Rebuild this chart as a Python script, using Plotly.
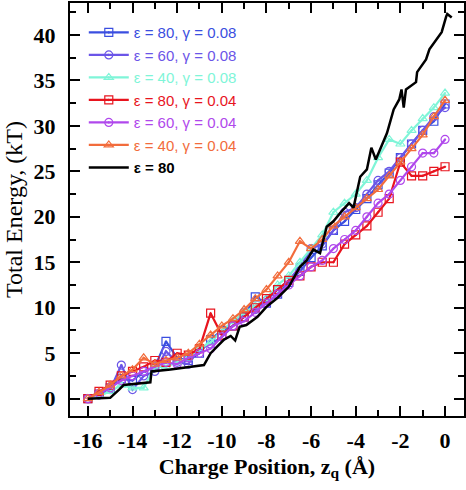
import plotly.graph_objects as go

# shared x grid for the colored series (Å)
x_grid = [-16.0, -15.5, -15.0, -14.5, -14.0, -13.5, -13.0, -12.5, -12.0, -11.5, -11.0,
          -10.5, -10.0, -9.5, -9.0, -8.5, -8.0, -7.5, -7.0, -6.5, -6.0, -5.5, -5.0,
          -4.5, -4.0, -3.5, -3.0, -2.5, -2.0, -1.5, -1.0, -0.5, 0.0]

e80_g008 = [0.0, 0.5, 1.2, 2.2, 2.0, 3.0, 3.5, 6.3, 4.5, 4.2, 5.0, 6.5, 7.5, 8.0, 9.0, 11.2,
            10.5, 11.5, 12.8, 14.0, 15.5, 16.8, 18.5, 19.5, 20.8, 22.0, 23.5, 24.8, 26.5,
            28.0, 29.5, 30.5, 32.4]
e60_g008 = [0.0, 0.4, 1.0, 3.7, 1.0, 2.5, 3.0, 5.2, 4.0, 3.8, 5.5, 6.0, 6.8, 8.0, 9.5, 9.8,
            10.8, 12.0, 13.0, 14.5, 16.5, 17.0, 18.5, 20.5, 21.0, 22.5, 24.0, 25.0, 26.5,
            28.0, 29.5, 31.0, 32.0]
e40_g008 = [0.0, 0.3, 0.8, 1.5, 1.2, 1.2, 3.5, 3.5, 4.0, 4.5, 5.5, 6.2, 7.5, 8.5, 9.5, 10.2,
            11.0, 12.5, 13.5, 15.0, 16.5, 18.0, 20.5, 21.5, 22.5, 24.0, 26.5, 28.5, 28.0,
            29.5, 30.8, 32.0, 33.6]
e80_g004 = [0.0, 0.8, 1.5, 2.5, 3.0, 3.5, 4.2, 4.0, 5.0, 4.8, 5.5, 9.4, 7.0, 8.0, 9.0, 10.0,
            11.0, 12.0, 13.0, 13.5, 14.5, 15.0, 15.0, 17.0, 18.0, 19.0, 20.5, 22.0, 26.0,
            24.5, 24.5, 25.0, 25.5]
e60_g004 = [0.0, 0.6, 1.2, 2.0, 2.5, 3.0, 3.5, 4.0, 3.8, 4.5, 5.0, 5.5, 6.8, 8.0, 8.5, 9.5,
            10.5, 11.5, 12.5, 13.5, 14.5, 15.2, 16.5, 17.5, 18.5, 20.0, 21.5, 22.5, 24.0,
            25.5, 27.0, 27.0, 28.5]
e40_g004 = [0.0, 0.7, 1.5, 2.5, 3.2, 4.5, 3.8, 4.2, 4.5, 5.0, 6.0, 7.0, 8.0, 8.8, 9.8, 11.0,
            12.0, 13.5, 15.0, 17.3, 16.5, 17.5, 19.0, 20.0, 21.0, 22.0, 23.0, 24.5, 26.0,
            27.5, 29.0, 31.0, 32.8]

# black curve (ε = 80, no γ)
x_black = [-16.0, -15.0, -14.6, -14.4, -13.2, -13.15, -12.3, -11.4, -10.8, -10.5,
           -9.9, -9.6, -9.4, -9.2, -8.9, -8.4, -8.0, -7.5, -7.3, -7.0,
           -6.5, -6.2, -5.9, -5.6, -5.3, -5.0, -4.7, -4.3, -4.1, -3.8,
           -3.5, -3.3, -3.1, -2.6, -2.3, -2.05, -1.95, -1.85, -1.75, -1.3,
           -1.25, -0.85, -0.7, -0.4, -0.15, 0.05, 0.1, 0.3]
y_black = [0.0, 0.1, 1.0, 1.5, 1.8, 3.0, 3.2, 3.5, 3.7, 5.0,
           6.5, 6.9, 6.4, 7.9, 8.1, 9.0, 10.1, 11.1, 11.6, 12.3,
           14.5, 15.2, 16.4, 16.0, 18.9, 19.5, 20.4, 21.5, 21.0, 24.4,
           25.2, 27.6, 26.3, 29.2, 31.8, 32.9, 34.0, 32.0, 34.0, 34.8,
           35.9, 37.3, 38.4, 39.5, 40.3, 42.0, 42.3, 41.9]

# tick labels
x_tick_vals = [-16, -14, -12, -10, -8, -6, -4, -2, 0]
x_tick_labels = ["-16", "-14", "-12", "-10", "-8", "-6", "-4", "-2", "0"]
y_tick_vals = [0, 5, 10, 15, 20, 25, 30, 35, 40]
y_tick_labels = ["0", "5", "10", "15", "20", "25", "30", "35", "40"]

series_names = ["ε = 80, γ = 0.08", "ε = 60, γ = 0.08", "ε = 40, γ = 0.08",
                "ε = 80, γ = 0.04", "ε = 60, γ = 0.04", "ε = 40, γ = 0.04"]
series_values = [e80_g008, e60_g008, e40_g008, e80_g004, e60_g004, e40_g004]
colors = ["#3a4ee0", "#6b55e8", "#7ff5d8", "#e8141e", "#b048ec", "#f26c3c"]
symbols = ["square-open-dot", "circle-open-dot", "triangle-up-open-dot",
           "square-open-dot", "circle-open-dot", "triangle-up-open-dot"]

fig = go.Figure()
for name, vals, col, sym in zip(series_names, series_values, colors, symbols):
    fig.add_trace(go.Scatter(
        x=x_grid, y=vals, mode="lines+markers",
        name=f"<span style='color:{col}'>{name}</span>",
        line=dict(color=col, width=2.2),
        marker=dict(symbol=sym, size=8, color=col, line=dict(width=1.2, color=col)),
    ))

fig.add_trace(go.Scatter(
    x=x_black, y=y_black, mode="lines",
    name="<b>ε = 80</b>",
    line=dict(color="black", width=2.5),
))

SERIF = "Liberation Serif, Times New Roman, serif"
tickfont = dict(family=SERIF, size=22, color="black")
axis_common = dict(
    showgrid=False, zeroline=False, showline=True, linecolor="black", linewidth=2,
    mirror="allticks", ticks="inside", ticklen=10, tickwidth=2, tickcolor="black",
    tickfont=tickfont, automargin=False,
)

fig.update_xaxes(
    range=[-16.8, 0.85], tickmode="array", tickvals=x_tick_vals,
    ticktext=[f"<b>{t}</b>" for t in x_tick_labels],
    minor=dict(ticks="inside", ticklen=6, tickwidth=2, tickcolor="black", dtick=1, tick0=-16),
    title=dict(text="<b>Charge Position, z<sub>q</sub> (Å)</b>",
               font=dict(family=SERIF, size=22, color="black"), standoff=6),
    ticklabelstandoff=4,
    **axis_common,
)
fig.update_yaxes(
    range=[-1.9, 43.5], tickmode="array", tickvals=y_tick_vals,
    ticktext=[f"<b>{t}</b>" for t in y_tick_labels],
    minor=dict(ticks="inside", ticklen=6, tickwidth=2, tickcolor="black", dtick=2.5, tick0=0),
    title=dict(text="Total Energy, (kT)",
               font=dict(family=SERIF, size=24, color="black"), standoff=4),
    ticklabelstandoff=8,
    **axis_common,
)

fig.update_layout(
    width=466, height=490,
    margin=dict(l=70, r=2, t=3, b=74),
    plot_bgcolor="white", paper_bgcolor="white",
    font=dict(family=SERIF),
    showlegend=True,
    legend=dict(
        x=0.035, y=0.968, xanchor="left", yanchor="top",
        bgcolor="rgba(0,0,0,0)", borderwidth=0,
        font=dict(family="Liberation Sans, Arial, sans-serif", size=15, color="black"),
        itemwidth=40, tracegroupgap=0,
    ),
)

fig.write_html("out.html", config={"displayModeBar": False},
               post_script="document.body.style.margin='0px';")
